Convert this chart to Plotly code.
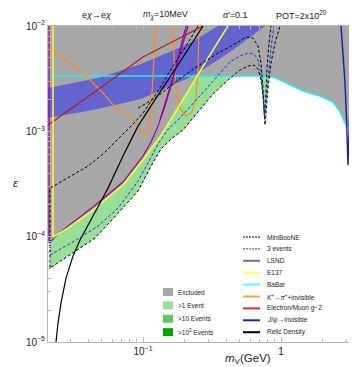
import plotly.graph_objects as go
import math

# ---------------- data (m_V in GeV, epsilon) ----------------
excl_lower_m = [0.0205, 0.02084, 0.02227, 0.02861, 0.04342, 0.07164, 0.1, 0.1182, 0.1328, 0.1518, 0.195, 0.2504,
                0.7785, 0.9199, 1.162, 1.443, 1.917, 2.382, 2.676, 2.862, 3.008, 3.162, 3.324, 3.495, 3.737, 3.928]
excl_lower_eps = [8.89e-5, 8.89e-5, 9.91e-5, 1.21e-4, 1.79e-4, 3.09e-4, 5.34e-4, 7.25e-4, 8.83e-4, 1.17e-3, 2.03e-3, 3.35e-3,
                  3.35e-3, 3.21e-3, 2.75e-3, 2.41e-3, 2.16e-3, 1.90e-3, 1.53e-3, 1.25e-3, 1.10e-3, 1.226e-3, 1.49e-3, 1.63e-3, 1.53e-3, 1.49e-3]

g2band_top_m = [0.0205, 0.0472, 0.09672, 0.2119, 0.3496]
g2band_top_eps = [2.58e-3, 3.21e-3, 4.36e-3, 6.75e-3, 1.0e-2]
g2band_bot_m = [0.0205, 0.0472, 0.09672, 0.2303, 0.4490, 0.7657]
g2band_bot_eps = [1.34e-3, 1.63e-3, 2.03e-3, 3.35e-3, 5.92e-3, 1.0e-2]

miniboone_m = [0.2504, 0.2119, 0.1650, 0.1284, 0.1, 0.08464, 0.0659, 0.0513, 0.03995, 0.02861, 0.02119, 0.02119,
               0.02861, 0.0449, 0.0659, 0.092, 0.1143, 0.1350, 0.1595, 0.1950, 0.2504, 0.3216, 0.4130, 0.5046,
               0.5767, 0.6374, 0.6813, 0.7163, 0.7406, 0.7530, 0.7657, 0.7785, 0.8050, 0.8462, 0.9047, 0.9835]
miniboone_eps = [1.0e-2, 6.90e-3, 4.17e-3, 2.41e-3, 1.49e-3, 1.17e-3, 8.45e-4, 6.09e-4, 4.68e-4, 3.60e-4, 2.89e-4, 5.03e-5,
                 6.54e-5, 9.70e-5, 1.67e-4, 2.71e-4, 4.68e-4, 6.79e-4, 8.45e-4, 1.03e-3, 1.53e-3, 2.26e-3, 3.07e-3, 3.82e-3,
                 4.17e-3, 4.26e-3, 3.90e-3, 3.07e-3, 2.16e-3, 1.66e-3, 1.15e-3, 1.49e-3, 2.58e-3, 4.45e-3, 6.90e-3, 1.0e-2]

miniboone_up_m = [0.092, 0.1284, 0.1793, 0.2504, 0.3496, 0.4490, 0.5577, 0.6268, 0.6813, 0.7163, 0.7406, 0.7593,
                  0.7785, 0.7917, 0.8185, 0.8462]
miniboone_up_eps = [1.66e-3, 2.16e-3, 3.07e-3, 4.17e-3, 5.54e-3, 6.60e-3, 7.86e-3, 7.69e-3, 6.46e-3, 4.45e-3, 2.58e-3, 1.40e-3,
                    2.31e-3, 3.99e-3, 6.90e-3, 1.0e-2]

three_ev_m = [0.02119, 0.02119, 0.0327, 0.0472, 0.0659, 0.092, 0.1087, 0.1284, 0.1518, 0.1793, 0.2504, 0.3496, 0.4268,
              0.5046, 0.5767, 0.6374, 0.6813, 0.7163, 0.7406, 0.7593, 0.7785, 0.8050, 0.8462, 0.8897]
three_ev_eps = [9.28e-5, 6.69e-5, 9.28e-5, 1.26e-4, 1.87e-4, 3.37e-4, 5.00e-4, 7.57e-4, 1.05e-3, 1.28e-3, 2.07e-3, 3.42e-3, 4.55e-3,
                5.19e-3, 5.54e-3, 5.42e-3, 4.75e-3, 3.50e-3, 2.31e-3, 1.34e-3, 1.86e-3, 3.21e-3, 6.18e-3, 1.0e-2]

lsnd_m = [0.02084, 0.02084, 0.02421, 0.04342, 0.07164, 0.1, 0.1143, 0.1284, 0.1443, 0.1595, 0.1734, 0.1886, 0.2049]
lsnd_eps = [1.0e-2, 8.69e-5, 1.059e-4, 1.91e-4, 3.30e-4, 5.83e-4, 7.91e-4, 1.12e-3, 1.74e-3, 2.69e-3, 4.17e-3, 6.46e-3, 1.0e-2]
lsnd2_m = [0.1328, 0.1443, 0.1595, 0.1734, 0.1886, 0.2119]
lsnd2_eps = [1.30e-3, 1.80e-3, 2.80e-3, 4.00e-3, 5.90e-3, 1.0e-2]

e137_m = [0.02227, 0.02227, 0.02861, 0.04342, 0.07164, 0.1, 0.1182, 0.1328, 0.1518, 0.1950, 0.2504, 0.3216, 0.4130]
e137_eps = [1.0e-2, 9.91e-5, 1.21e-4, 1.79e-4, 3.09e-4, 5.34e-4, 7.25e-4, 8.83e-4, 1.17e-3, 2.03e-3, 3.42e-3, 5.92e-3, 1.0e-2]

babar_m = [0.0205, 0.7785, 0.9199, 1.162, 1.443, 1.917, 2.382, 2.676, 2.862, 3.008, 3.162, 3.324, 3.495, 3.737, 3.928]
babar_eps = [3.35e-3, 3.35e-3, 3.21e-3, 2.75e-3, 2.41e-3, 2.16e-3, 1.90e-3, 1.53e-3, 1.25e-3, 1.10e-3, 1.226e-3, 1.49e-3,
             1.63e-3, 1.53e-3, 1.49e-3]

kpi_a_m = [0.0205, 0.03675, 0.0513, 0.0637, 0.0805, 0.08898, 0.09512, 0.1017, 0.1087, 0.1124, 0.1162, 0.1201, 0.1222, 0.1242]
kpi_a_eps = [6.46e-3, 3.58e-3, 2.31e-3, 1.66e-3, 1.40e-3, 1.15e-3, 9.85e-4, 9.22e-4, 1.03e-3, 1.34e-3, 2.31e-3, 4.97e-3,
             7.69e-3, 1.0e-2]
kpi_b_m = [0.1650, 0.1678, 0.1734, 0.1854, 0.2049, 0.2265, 0.2422, 0.2504, 0.2546]
kpi_b_eps = [1.0e-2, 4.97e-3, 2.58e-3, 1.66e-3, 1.40e-3, 1.53e-3, 2.07e-3, 3.99e-3, 1.0e-2]

g2_m = [0.0205, 0.04565, 0.1, 0.1793, 0.2721]
g2_eps = [1.15e-3, 2.41e-3, 5.08e-3, 7.52e-3, 1.0e-2]

jpsi_m = [2.722, 2.814, 2.910, 2.983, 3.058, 3.136, 3.215, 3.324, 3.437]
jpsi_eps = [1.0e-2, 5.54e-3, 2.87e-3, 1.34e-3, 4.79e-4, 1.34e-3, 2.87e-3, 5.54e-3, 1.0e-2]

relic_m = [0.02342, 0.02421, 0.02545, 0.02767, 0.03110, 0.03495, 0.04342, 0.05578, 0.07164, 0.092, 0.1284, 0.1793, 0.2721]
relic_eps = [1.0e-5, 1.51e-5, 2.34e-5, 4.04e-5, 6.54e-5, 9.28e-5, 1.57e-4, 2.89e-4, 5.83e-4, 1.12e-3, 2.21e-3, 4.26e-3, 1.0e-2]

x_range = [0.02049, 3.928]
y_range = [1e-5, 1e-2]

x_major = [0.1, 1]
x_major_text = ["10<sup>−1</sup>", "1"]
x_minor = [0.03, 0.04, 0.05, 0.06, 0.07, 0.08, 0.09, 0.2, 0.3, 0.4, 0.5, 0.6, 0.7, 0.8, 0.9, 2, 3]
y_major = [1e-5, 1e-4, 1e-3, 1e-2]
y_major_text = ["10<sup>−5</sup>", "10<sup>−4</sup>", "10<sup>−3</sup>", "10<sup>−2</sup>"]
y_minor = [k * 10.0 ** e for e in (-5, -4, -3) for k in range(2, 10)]

legend_fill_labels = ["Excluded", ">1 Event", ">10 Events", ">10<sup>3</sup> Events"]
legend_fill_colors = ["#a8a8a8", "#98df98", "#5cc45c", "#00a300"]
legend_line_labels = ["MiniBooNE", "3 events", "LSND", "E137", "BaBar", "<i>K</i><sup>+</sup>→<i>π</i><sup>+</sup>+invisible",
                      "Electron/Muon g−2", "<i>J</i>/<i>ψ</i>→invisible", "Relic Density"]
legend_line_colors = ["black", "#2a2ae6", "#777777", "#ffff55", "#55ffff", "#ffa040", "#d83030", "#2020b8", "black"]
legend_line_dash = ["dash", "dash", "solid", "solid", "solid", "solid", "solid", "solid", "solid"]

# ---------------- figure ----------------
W, H = 357, 367
ML, MR, MT, MB = 40, 2, 18, 33
fig = go.Figure()

GRAY = "#a8a8a8"
GREEN = "#98df98"
BAND = "#6464d0"

fig.add_trace(go.Scatter(x=miniboone_m, y=miniboone_eps, fill="toself", fillcolor=GREEN, mode="none",
                         hoverinfo="skip"))
ex_x = [x_range[0] * 0.95] + excl_lower_m + [x_range[1] * 1.05, x_range[0] * 0.95]
ex_y = [excl_lower_eps[0]] + excl_lower_eps + [y_range[1] * 1.1, y_range[1] * 1.1]
fig.add_trace(go.Scatter(x=ex_x, y=ex_y, fill="toself", fillcolor=GRAY, mode="none", hoverinfo="skip"))
bx = g2band_top_m + g2band_bot_m[::-1]
by = g2band_top_eps + g2band_bot_eps[::-1]
fig.add_trace(go.Scatter(x=bx, y=by, fill="toself", fillcolor=BAND, mode="none", hoverinfo="skip"))


def line(x, y, color, width=1.2, dash="solid"):
    fig.add_trace(go.Scatter(x=x, y=y, mode="lines", line=dict(color=color, width=width, dash=dash),
                             hoverinfo="skip"))


line(babar_m, babar_eps, "#22eeee", 1.6)
line(kpi_a_m, kpi_a_eps, "#ff8c1a", 1.2)
line(kpi_b_m, kpi_b_eps, "#ff8c1a", 1.2)
line(g2_m, g2_eps, "#b01c1c", 1.2)
line(lsnd_m, lsnd_eps, "#990099", 1.2)
line(lsnd2_m, lsnd2_eps, "#990099", 1.2)
line(e137_m, e137_eps, "#ffff33", 1.5)
line(relic_m, relic_eps, "black", 1.2)
line(miniboone_m, miniboone_eps, "black", 1.0, "3px,2px")
line(miniboone_up_m, miniboone_up_eps, "black", 1.0, "3px,2px")
line(three_ev_m, three_ev_eps, "#2a2ae6", 1.0, "3px,2px")
line(jpsi_m, jpsi_eps, "#1a1aa0", 1.4)


def pxp(x):
    return (x - ML) / (W - ML - MR)


def pyp(y):
    return (H - MB - y) / (H - MT - MB)


shapes = []
annos = []
FONT = "Liberation Sans, Arial, sans-serif"
for i, (lab, col) in enumerate(zip(legend_fill_labels, legend_fill_colors)):
    yc = 284 + i * 13.4
    shapes.append(dict(type="rect", xref="paper", yref="paper", x0=pxp(155), x1=pxp(165),
                       y0=pyp(yc + 4), y1=pyp(yc - 4), fillcolor=col, line=dict(width=0)))
    annos.append(dict(xref="paper", yref="paper", x=pxp(168), y=pyp(yc), text=lab, showarrow=False,
                      xanchor="left", yanchor="middle", font=dict(size=6.5, color="#222", family=FONT)))
for i, (lab, col, dsh) in enumerate(zip(legend_line_labels, legend_line_colors, legend_line_dash)):
    yc = 229 + i * 11.9
    shapes.append(dict(type="line", xref="paper", yref="paper", x0=pxp(235), x1=pxp(252),
                       y0=pyp(yc), y1=pyp(yc), line=dict(color=col, width=1.0 if dsh == "dash" else 2,
                                                         dash="2px,1px" if dsh == "dash" else "solid")))
    annos.append(dict(xref="paper", yref="paper", x=pxp(257), y=pyp(yc), text=lab, showarrow=False,
                      xanchor="left", yanchor="middle", font=dict(size=6.5, color="#222", family=FONT)))

head = [(89, "e<i>χ</i>→e<i>χ</i>"), (157, "<i>m</i><sub><i>χ</i></sub>=10MeV"), (227, "<i>α</i>'=0.1"),
        (293, "POT=2x10<sup>20</sup>")]
for xc, t in head:
    annos.append(dict(xref="paper", yref="paper", x=pxp(xc), y=pyp(7), text=t, showarrow=False,
                      xanchor="center", yanchor="middle", font=dict(size=9, color="#222", family=FONT)))
annos.append(dict(xref="paper", yref="paper", x=pxp(7), y=pyp(175), text="<i>ε</i>", showarrow=False,
                  xanchor="center", yanchor="middle", font=dict(size=11, color="#222", family=FONT)))
annos.append(dict(xref="paper", yref="paper", x=pxp(240), y=pyp(351), text="<i>m</i><sub>V</sub>(GeV)",
                  showarrow=False, xanchor="center", yanchor="middle", font=dict(size=11.5, color="#222", family=FONT)))

axcol = "#b8b8b8"
fig.update_layout(
    width=W, height=H, margin=dict(l=ML, r=MR, t=MT, b=MB, pad=0),
    paper_bgcolor="white", plot_bgcolor="white", showlegend=False,
    shapes=shapes, annotations=annos,
    xaxis=dict(type="log", range=[math.log10(x_range[0]), math.log10(x_range[1])], showgrid=False, zeroline=False,
               tickmode="array", tickvals=x_major, ticktext=x_major_text, ticks="inside", ticklen=5, tickcolor=axcol,
               showline=True, linecolor=axcol, linewidth=1, mirror="ticks",
               tickfont=dict(size=10, color="#222", family=FONT),
               minor=dict(tickmode="array", tickvals=x_minor, ticks="inside", ticklen=3, tickcolor=axcol,
                          showgrid=False)),
    yaxis=dict(type="log", range=[math.log10(y_range[0]), math.log10(y_range[1])], showgrid=False, zeroline=False,
               tickmode="array", tickvals=y_major, ticktext=y_major_text, ticks="inside", ticklen=5, tickcolor=axcol,
               showline=True, linecolor=axcol, linewidth=1, mirror="ticks",
               tickfont=dict(size=10, color="#222", family=FONT),
               minor=dict(tickmode="array", tickvals=y_minor, ticks="inside", ticklen=3, tickcolor=axcol,
                          showgrid=False)),
)
fig.write_html("out.html")
